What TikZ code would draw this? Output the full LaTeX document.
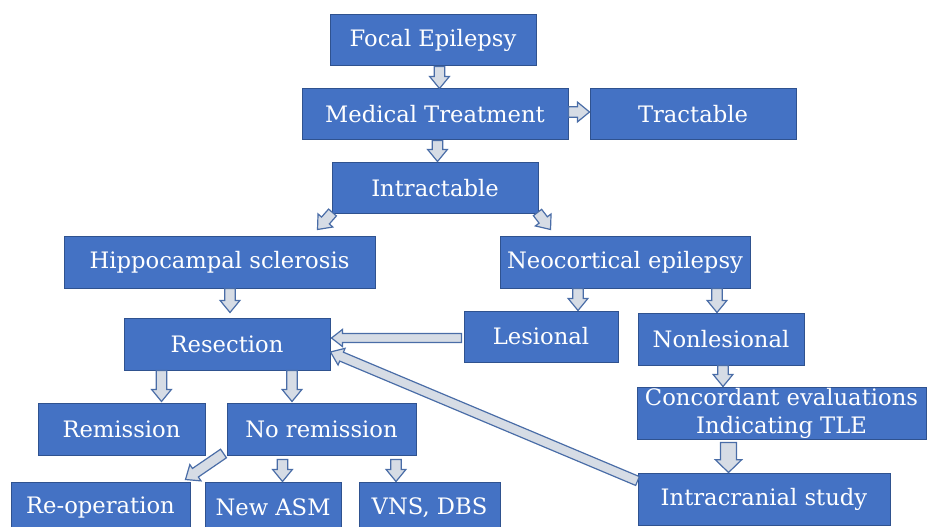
\documentclass[tikz,border=0pt]{standalone}
\usepackage{fontspec}
\setmainfont{DejaVu Serif}
\usetikzlibrary{calc}
\definecolor{boxfill}{HTML}{4472C4}
\definecolor{boxline}{HTML}{2F528F}
\definecolor{arrfill}{HTML}{D6DCE5}
\definecolor{arrline}{HTML}{4A6DA7}
\tikzset{
  box/.style 2 args={draw=boxline, fill=boxfill, line width=0.75pt, inner sep=0pt,
    minimum width=#1*0.75pt, minimum height=#2*0.75pt,
    text=white, font=\fontsize{17}{21}\selectfont, align=center},
  barrow/.style n args={3}{draw=arrline, fill=arrfill, line width=0.9pt, line join=miter,
    to path={let \p1=(\tikztostart), \p2=(\tikztotarget), \n1={atan2(\y2-\y1,\x2-\x1)} in
      ($(\p1)+(\n1+90:#1)$) -- ($(\p2)+(\n1+180:#3)+(\n1+90:#1)$)
      -- ($(\p2)+(\n1+180:#3)+(\n1+90:#2)$) -- (\p2)
      -- ($(\p2)+(\n1+180:#3)+(\n1-90:#2)$) -- ($(\p2)+(\n1+180:#3)+(\n1-90:#1)$)
      -- ($(\p1)+(\n1-90:#1)$) -- cycle}},
  sarrow/.style={barrow={3.9pt}{7.4pt}{9pt}},
}
\begin{document}
\begin{tikzpicture}[x=0.75pt, y=-0.75pt]
\useasboundingbox (0,0) rectangle (927,527);
% boxes
\node[box={206}{51}] (focal) at (433,40.5) {Focal Epilepsy};
\node[box={266}{51}] (med) at (435,114.5) {Medical Treatment};
\node[box={206}{51}] (tract) at (693,114.5) {Tractable};
\node[box={206}{51}] (intr) at (435,188.5) {Intractable};
\node[box={311}{51}] (hippo) at (219.5,262.5) {Hippocampal sclerosis};
\node[box={250}{51}] (neo) at (625,262.5) {Neocortical epilepsy};
\node[box={206}{52}] (resec) at (227,344) {Resection};
\node[box={154}{51}] (les) at (541,336.5) {Lesional};
\node[box={166}{52}] (nonles) at (721,339) {Nonlesional};
\node[box={289}{52}] (conc) at (781.5,413) {Concordant evaluations\\Indicating TLE};
\node[box={167}{52}] (remis) at (121.5,429) {Remission};
\node[box={189}{52}] (norem) at (321.5,429) {No remission};
\node[box={179}{51}] (reop) at (100.5,507.5) {Re-operation};
\node[box={136}{51}] (newasm) at (273,507.5) {New ASM};
\node[box={141}{51}] (vns) at (429.5,507.5) {VNS, DBS};
\node[box={252}{52}] (intra) at (764,499) {Intracranial study};
% arrow guides
\coordinate (x1) at (439.5,0);
\coordinate (x2) at (437.5,0);
\coordinate (y3) at (0,112);
\coordinate (x6) at (230,0);
\coordinate (x7) at (578,0);
\coordinate (x8) at (717,0);
\coordinate (y9) at (0,338);
\coordinate (x10) at (723,0);
\coordinate (x11) at (728.5,0);
\coordinate (x13) at (161.5,0);
\coordinate (x14) at (292,0);
\coordinate (x16) at (282.5,0);
\coordinate (x17) at (396,0);
% arrows
\draw[sarrow] (focal.south -| x1) to (med.north -| x1);
\draw[sarrow] (med.south -| x2) to ($(intr.north -| x2)+(0,-1)$);
\draw[sarrow] (med.east |- y3) to (tract.west |- y3);
\draw[sarrow] ($(intr.south west)+(1,-2)$) to ($(hippo.north east)+(-58,-7)$);
\draw[sarrow] ($(intr.south east)+(-1,-2)$) to ($(neo.north west)+(51,-7)$);
\draw[sarrow] (hippo.south -| x6) to ($(resec.north -| x6)+(0,-5)$);
\draw[sarrow] (neo.south -| x7) to (les.north -| x7);
\draw[sarrow] (neo.south -| x8) to (nonles.north -| x8);
\draw[barrow={3.4pt}{6.4pt}{8.2pt}] ($(les.west |- y9)+(-2,0)$) to ($(resec.east |- y9)+(1,0)$);
\draw[sarrow] (nonles.south -| x10) to (conc.north -| x10);
\draw[barrow={6pt}{9.8pt}{9.5pt}] ($(conc.south -| x11)+(0,3)$) to (intra.north -| x11);
\draw[barrow={3.6pt}{6.8pt}{9pt}] ($(intra.west)+(0,-18)$) to ($(resec.east)+(0,8)$);
\draw[sarrow] (resec.south -| x13) to ($(remis.north -| x13)+(0,-1)$);
\draw[sarrow] (resec.south -| x14) to ($(norem.north -| x14)+(0,-1)$);
\draw[sarrow] ($(norem.south west)+(-3,-2)$) to ($(reop.north east)+(-5,-2)$);
\draw[sarrow] ($(norem.south -| x16)+(0,4)$) to (newasm.north -| x16);
\draw[sarrow] ($(norem.south -| x17)+(0,4)$) to (vns.north -| x17);
\end{tikzpicture}
\end{document}
